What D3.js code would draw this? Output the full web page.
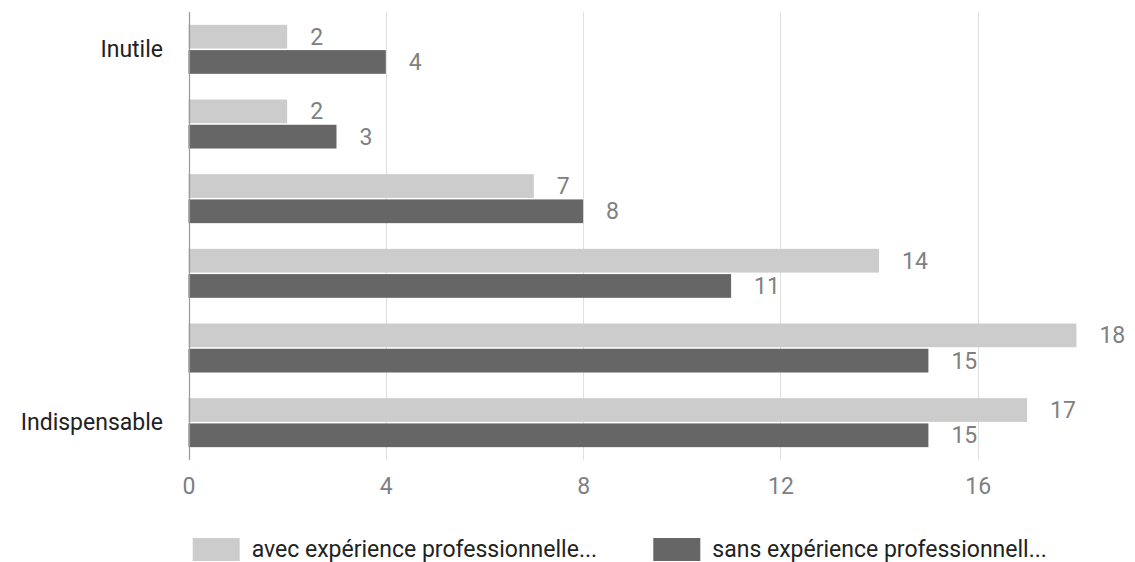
<!DOCTYPE html>
<html>
<head>
<meta charset="utf-8">
<script src="https://cdn.jsdelivr.net/npm/d3@7"></script>
<style>
  html, body { margin: 0; padding: 0; background: #fff; }
  svg { display: block; font-family: Roboto, "Noto Sans", Arial, sans-serif; }
</style>
</head>
<body>
<svg id="chart" width="1135" height="562"></svg>
<script>
// Rating scale from 1 (Inutile) to 6 (Indispensable)
const categories = ["1", "2", "3", "4", "5", "6"];
const categoryLabels = ["Inutile", "", "", "", "", "Indispensable"];
const seriesNames = ["avec expérience professionnelle...", "sans expérience professionnell..."];
const avecValues = [2, 2, 7, 14, 18, 17];
const sansValues = [4, 3, 8, 11, 15, 15];
const xTicks = [0, 4, 8, 12, 16];
const colors = ["#cccccc", "#666666"];

const svg = d3.select("#chart");

const x = d3.scaleLinear().domain([0, 18]).range([188.5, 1076.4]);
const y = d3.scaleBand().domain(categories).range([12, 460])
  .paddingInner(0.344).paddingOuter(0.172);
const ySub = d3.scaleBand().domain([0, 1]).range([0, y.bandwidth()]).paddingInner(0.06);

const rows = categories.map((c, i) => ({ cat: c, values: [avecValues[i], sansValues[i]] }));

// vertical gridlines
svg.append("g")
  .selectAll("line")
  .data(xTicks.filter(t => t !== 0))
  .join("line")
  .attr("x1", d => Math.round(x(d)) + 0.5)
  .attr("x2", d => Math.round(x(d)) + 0.5)
  .attr("y1", 12).attr("y2", 460)
  .attr("stroke", "#e0e0e0").attr("stroke-width", 1);

// bars
const groups = svg.append("g")
  .selectAll("g")
  .data(rows)
  .join("g")
  .attr("transform", d => `translate(0,${y(d.cat)})`);

groups.selectAll("rect")
  .data(d => d.values.map((v, k) => ({ v, k })))
  .join("rect")
  .attr("x", x(0))
  .attr("y", d => ySub(d.k))
  .attr("width", d => x(d.v) - x(0))
  .attr("height", ySub.bandwidth())
  .attr("fill", d => colors[d.k]);

// value labels
groups.selectAll("text")
  .data(d => d.values.map((v, k) => ({ v, k })))
  .join("text")
  .attr("x", d => x(d.v) + 23)
  .attr("y", d => ySub(d.k) + ySub.bandwidth() / 2)
  .attr("dy", "0.35em")
  .attr("font-size", 23)
  .attr("fill", "#808080")
  .text(d => d.v);

// baseline axis at zero
svg.append("line")
  .attr("x1", Math.round(x(0)) + 0.5).attr("x2", Math.round(x(0)) + 0.5)
  .attr("y1", 12).attr("y2", 460)
  .attr("stroke", "#999999").attr("stroke-width", 1.2);

// x axis tick labels
const xAxis = d3.axisBottom(x).tickValues(xTicks).tickSize(0).tickPadding(0);
const gx = svg.append("g").attr("transform", "translate(0,485.5)").call(xAxis);
gx.select(".domain").remove();
gx.selectAll("text")
  .attr("dy", "0.35em").attr("y", 0)
  .attr("font-size", 23).attr("fill", "#808080")
  .attr("font-family", "Roboto, 'Noto Sans', Arial, sans-serif");

// category labels
const yAxis = d3.axisLeft(y).tickSize(0).tickPadding(0)
  .tickFormat((d, i) => categoryLabels[i]);
const gy = svg.append("g").attr("transform", "translate(163,0)").call(yAxis);
gy.select(".domain").remove();
gy.selectAll("text")
  .attr("font-size", 23).attr("fill", "#222222")
  .attr("font-family", "Roboto, 'Noto Sans', Arial, sans-serif");

// legend
const legendX = [192.7, 653.3];
const legend = svg.append("g")
  .selectAll("g")
  .data(seriesNames)
  .join("g")
  .attr("transform", (d, i) => `translate(${legendX[i]},538)`);
legend.append("rect")
  .attr("width", 47).attr("height", 23)
  .attr("fill", (d, i) => colors[i]);
legend.append("text")
  .attr("x", 59).attr("y", 18.5)
  .attr("font-size", 23).attr("fill", "#222222")
  .text(d => d);
</script>
</body>
</html>
